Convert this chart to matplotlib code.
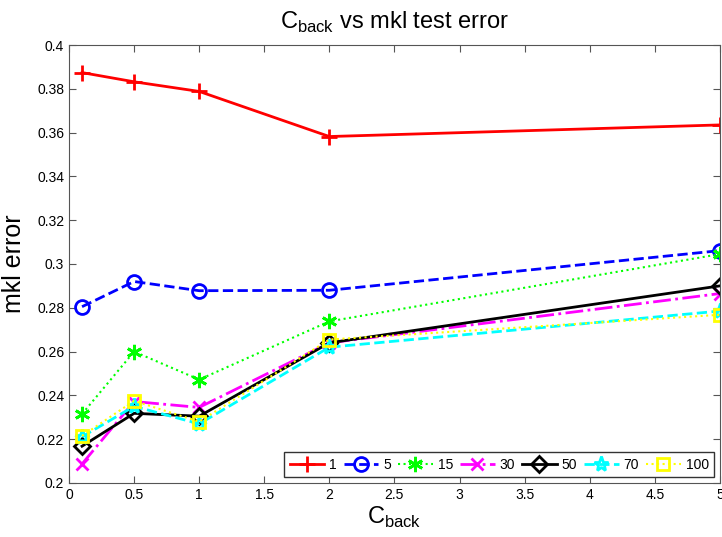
import numpy as np
import matplotlib.pyplot as plt
from matplotlib.ticker import FuncFormatter, MultipleLocator

plt.rcParams['font.family'] = ['Liberation Sans', 'DejaVu Sans']
plt.rcParams['mathtext.fontset'] = 'custom'
plt.rcParams['mathtext.rm'] = 'Liberation Sans'

c_back = [0.1, 0.5, 1, 2, 5]
labels = ['1', '5', '15', '30', '50', '70', '100']

err_1 = [0.3874, 0.3832, 0.3788, 0.3582, 0.3635]
err_5 = [0.2805, 0.2920, 0.2878, 0.2880, 0.3061]
err_15 = [0.2315, 0.2600, 0.2472, 0.2738, 0.3045]
err_30 = [0.2087, 0.2372, 0.2345, 0.2640, 0.2865]
err_50 = [0.2168, 0.2318, 0.2305, 0.2640, 0.2900]
err_70 = [0.2211, 0.2350, 0.2270, 0.2620, 0.2785]
err_100 = [0.2215, 0.2375, 0.2280, 0.2655, 0.2768]

series = [err_1, err_5, err_15, err_30, err_50, err_70, err_100]
colors = ['#ff0000', '#0000ff', '#00ff00', '#ff00ff', '#000000', '#00ffff', '#ffff00']
styles = ['-', '--', ':', '-.', '-', '--', ':']
widths = [2, 2, 1.5, 2, 2, 2, 1.5]
markers = ['+', 'o', (6, 2, 0), 'x', 'D', '*', 's']
msizes = [11, 10, 11, 9, 8, 11, 9]

fig = plt.figure(figsize=(7.22, 5.37), dpi=100)
ax = fig.add_axes([0.0956, 0.1006, 0.9014, 0.8156])

for y, lab, c, ls, lw, m, ms in zip(series, labels, colors, styles, widths, markers, msizes):
    ax.plot(c_back, y, color=c, linestyle=ls, marker=m, markersize=ms,
            markerfacecolor='none', markeredgecolor=c, markeredgewidth=2,
            linewidth=lw, label=lab)

ax.set_xlim(0, 5)
ax.set_ylim(0.2, 0.4)
ax.xaxis.set_major_locator(MultipleLocator(0.5))
ax.yaxis.set_major_locator(MultipleLocator(0.02))
fmt = FuncFormatter(lambda v, p: '%g' % round(v, 4))
ax.xaxis.set_major_formatter(fmt)
ax.yaxis.set_major_formatter(fmt)
ax.tick_params(direction='in', length=5, top=True, right=True, labelsize=10,
               color='#555555')
for s in ax.spines.values():
    s.set_color('#555555')

ax.set_title(r'$\mathrm{C}_{\mathrm{back}}$ vs mkl test error', fontsize=17, pad=12)
ax.set_xlabel(r'$\mathrm{C}_{\mathrm{back}}$', fontsize=17, labelpad=2)
ax.set_ylabel('mkl error', fontsize=18, labelpad=8)

leg = ax.legend(loc='lower right', ncol=7, fontsize=10, handlelength=2.5,
                columnspacing=0.5, handletextpad=0.35, borderpad=0.4,
                fancybox=False, framealpha=1, borderaxespad=0.4)
leg.get_frame().set_edgecolor('#333333')
leg.get_frame().set_linewidth(1)

fig.savefig('out.png', dpi=100)
